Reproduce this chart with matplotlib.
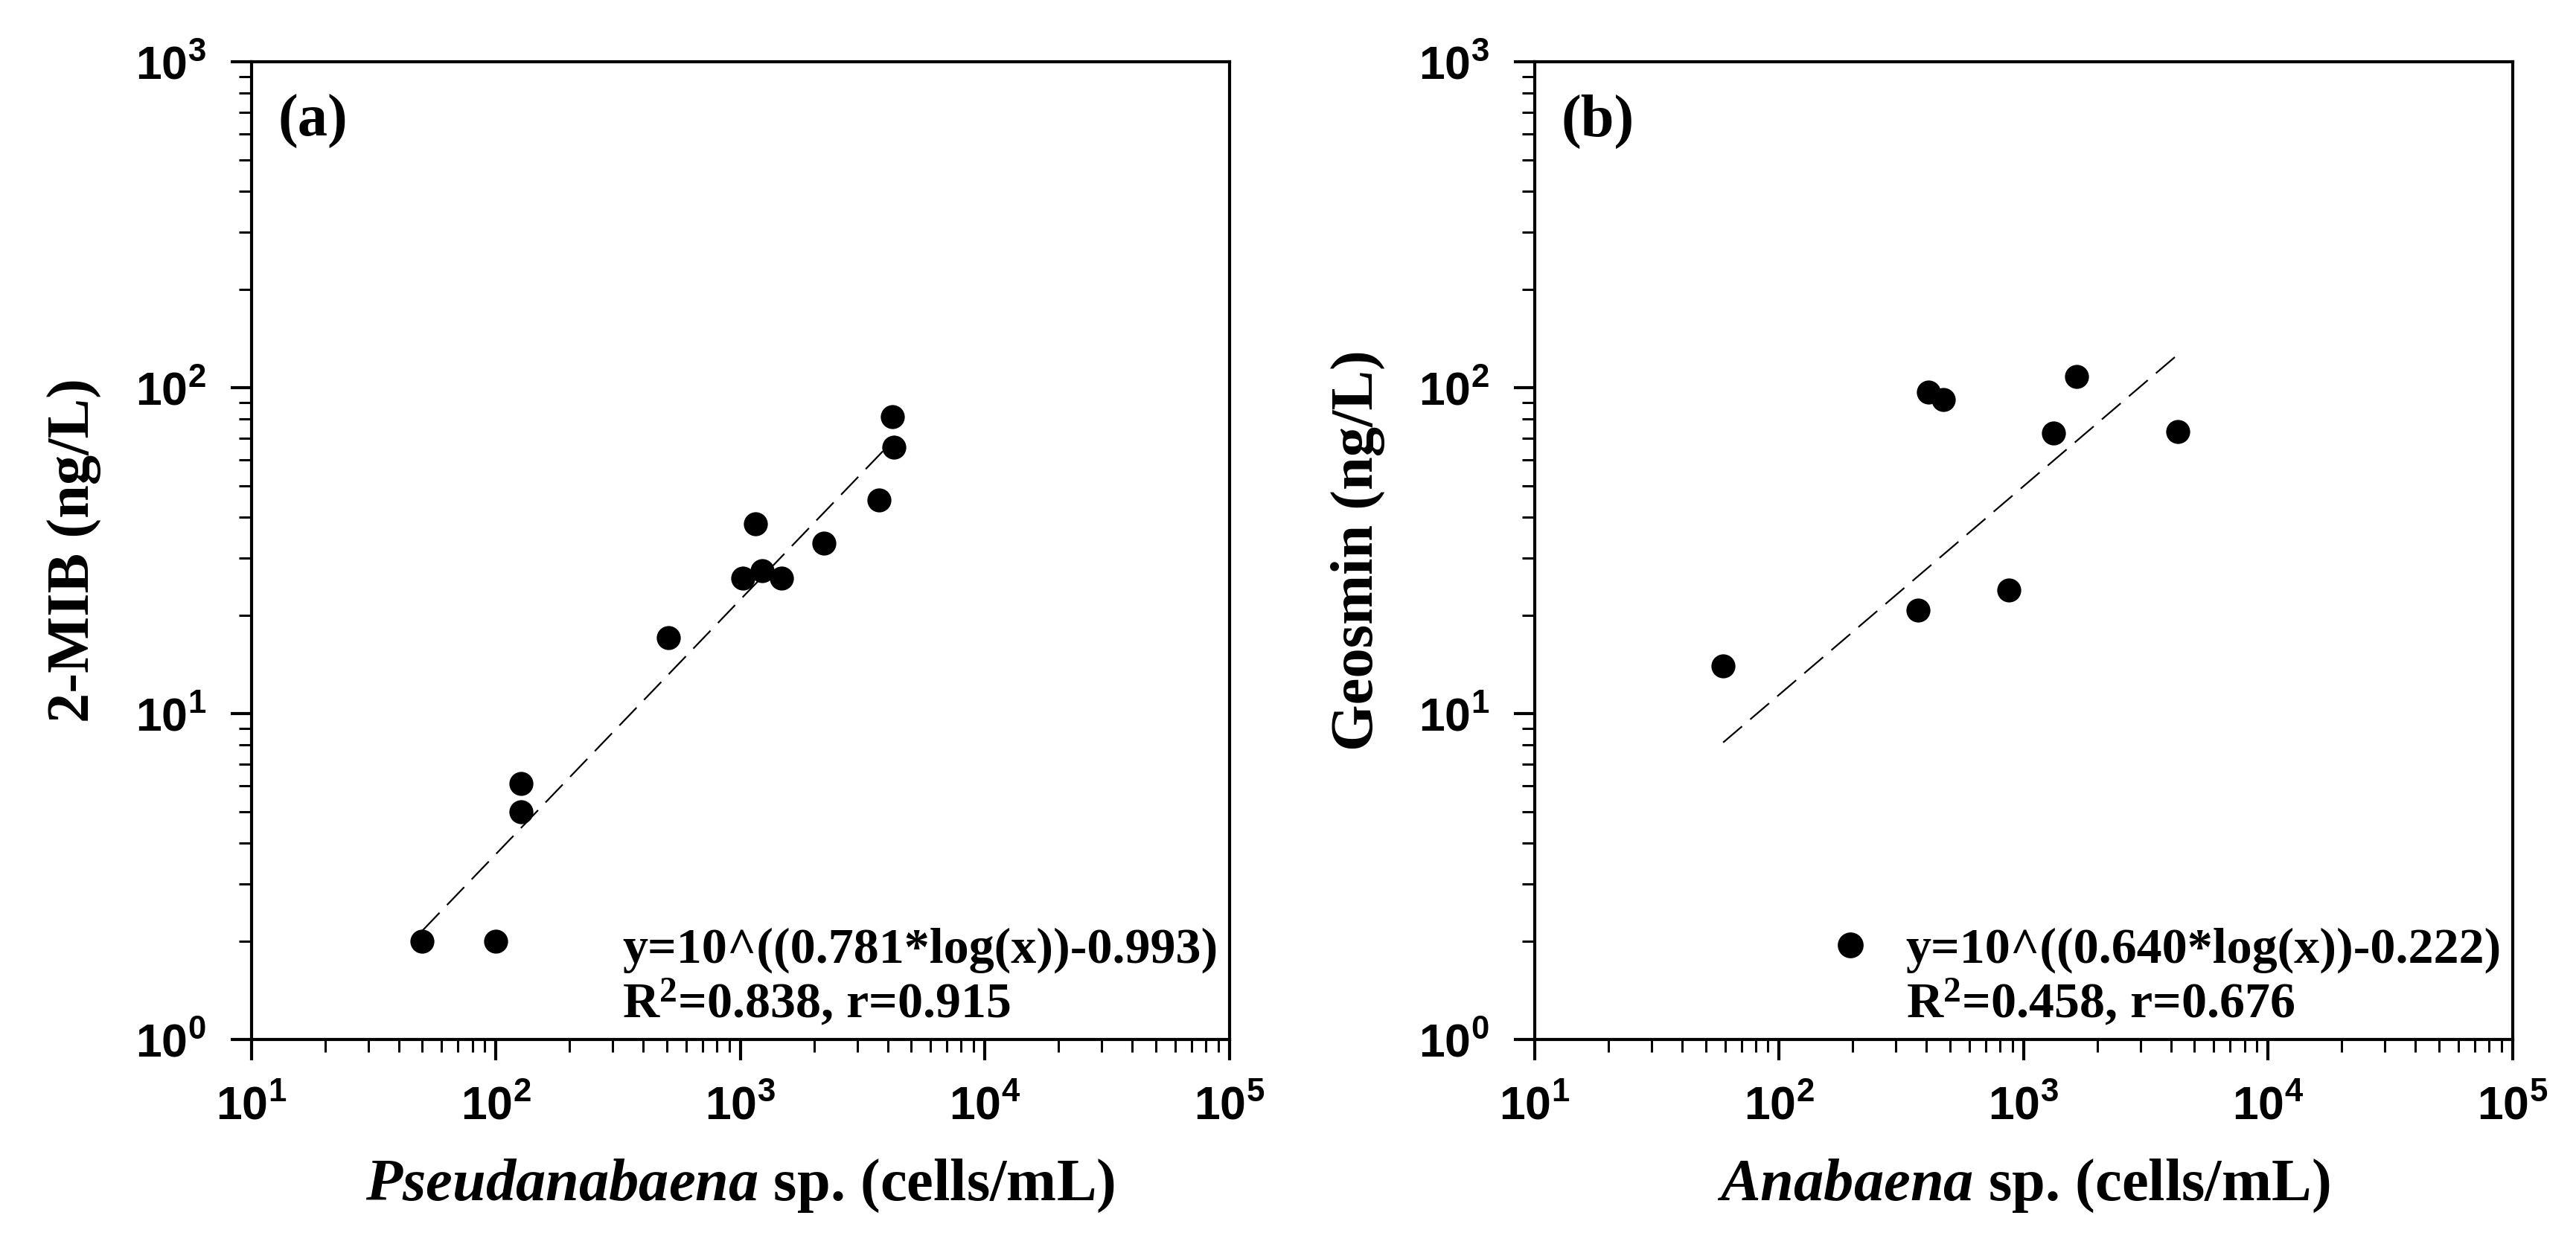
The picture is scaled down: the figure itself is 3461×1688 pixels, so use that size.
import numpy as np
import matplotlib
matplotlib.use('Agg')
import matplotlib.pyplot as plt
from matplotlib.lines import Line2D
from matplotlib.ticker import LogLocator, NullFormatter

plt.rcParams['mathtext.fontset'] = 'custom'
plt.rcParams['mathtext.it'] = 'Liberation Serif:italic:bold'
plt.rcParams['mathtext.rm'] = 'Liberation Serif:bold'

# (a) Pseudanabaena vs 2-MIB
pseud_cells = [50, 100, 127, 127, 506, 1026, 1225, 1475, 1150, 2190, 3690, 4180, 4240]
mib_ngl = [2.0, 2.0, 6.1, 5.0, 17.1, 26.1, 27.4, 26.1, 38.3, 33.3, 45.2, 81.3, 65.8]
fit_a = (0.781, -0.993)
eq_a = ['y=10^((0.781*log(x))-0.993)', r'R$^{2}$=0.838, r=0.915']

# (b) Anabaena vs Geosmin
anab_cells = [59, 371, 407, 470, 867, 1327, 1641, 4285]
geosmin_ngl = [14.0, 20.8, 96.9, 92.0, 23.9, 72.6, 108.0, 73.5]
fit_b = (0.640, -0.222)
eq_b = ['y=10^((0.640*log(x))-0.222)', r'R$^{2}$=0.458, r=0.676']

serif = 'Liberation Serif'
sans = 'Liberation Sans'

fig = plt.figure(figsize=(17.31, 8.44), dpi=200)
ax_a = fig.add_axes([0.0976, 0.1724, 0.3795, 0.7784])
ax_b = fig.add_axes([0.5956, 0.1724, 0.3795, 0.7784])


def draw_panel(ax, x, y, fit, eq, tag, xlab_it, ylab, show_marker):
    x = np.asarray(x, float)
    y = np.asarray(y, float)
    ax.scatter(x, y, s=135, color='black', zorder=3, linewidths=0)
    xs = np.logspace(np.log10(x.min()), np.log10(x.max()), 50)
    ax.plot(xs, 10 ** (fit[0] * np.log10(xs) + fit[1]), color='black',
            lw=0.8, dashes=(15, 6.5), zorder=2)

    ax.set_xscale('log')
    ax.set_yscale('log')
    ax.set_xlim(10, 1e5)
    ax.set_ylim(1, 1e3)
    ax.xaxis.set_minor_locator(LogLocator(base=10, subs=np.arange(2, 10)))
    ax.yaxis.set_minor_locator(LogLocator(base=10, subs=np.arange(2, 10)))
    ax.xaxis.set_minor_formatter(NullFormatter())
    ax.yaxis.set_minor_formatter(NullFormatter())

    for sp in ax.spines.values():
        sp.set_linewidth(1.5)
    ax.tick_params(which='major', direction='out', length=10, width=1.5, pad=12,
                   top=False, right=False)
    ax.tick_params(which='minor', direction='out', length=6, width=1.1,
                   top=False, right=False)
    for t in ax.get_xticklabels() + ax.get_yticklabels():
        t.set_fontfamily(sans)
        t.set_fontweight('bold')
        t.set_fontsize(22.5)

    ax.set_xlabel(r'$\mathit{' + xlab_it + r'}$ sp. (cells/mL)',
                  fontfamily=serif, fontweight='bold', fontsize=29, labelpad=14)
    ax.set_ylabel(ylab, fontfamily=serif, fontweight='bold', fontsize=29, labelpad=16)

    ax.text(0.027, 0.967, tag, transform=ax.transAxes, ha='left', va='top',
            fontfamily=serif, fontweight='bold', fontsize=29)

    # regression legend: marker on the first line only (panel b)
    h1 = Line2D([], [], linestyle='none', marker='o' if show_marker else None,
                markersize=11.5, color='black')
    h2 = Line2D([], [], linestyle='none', marker=None)
    ax.legend([h1, h2], eq, loc='lower right', frameon=False,
              prop={'family': serif, 'weight': 'bold', 'size': 24.5},
              handlelength=1.0 if show_marker else 0,
              handletextpad=0.6 if show_marker else 0,
              labelspacing=0.08, borderaxespad=0.12, borderpad=0.1)


draw_panel(ax_a, pseud_cells, mib_ngl, fit_a, eq_a, '(a)', 'Pseudanabaena',
           '2-MIB (ng/L)', False)
draw_panel(ax_b, anab_cells, geosmin_ngl, fit_b, eq_b, '(b)', 'Anabaena',
           'Geosmin (ng/L)', True)

fig.savefig('out.png', dpi=200)
